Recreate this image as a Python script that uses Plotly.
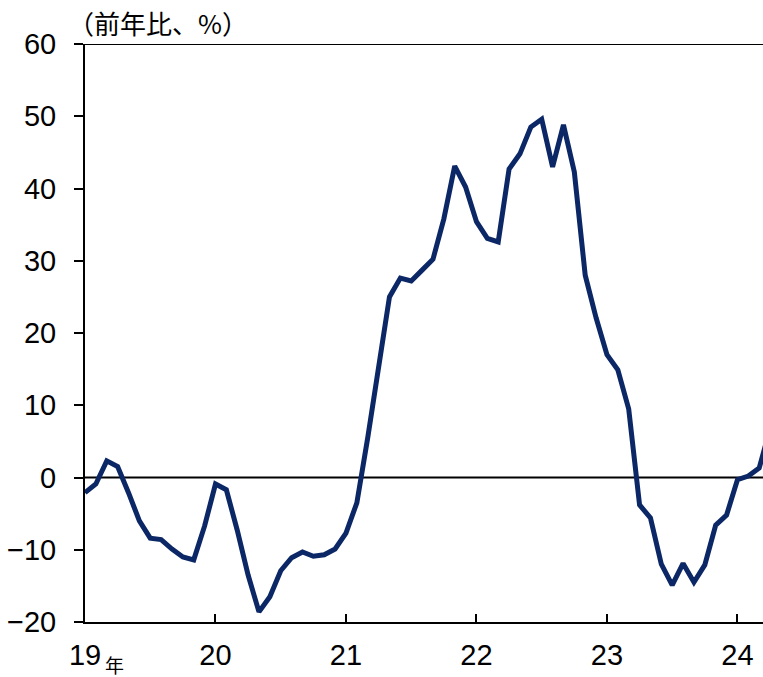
import plotly.graph_objects as go

# Monthly year-on-year change (%), Jan 2019 onward
months = list(range(64))
yoy = [
    -2.1, -0.9, 2.3, 1.5, -2.1, -6.0, -8.4, -8.6, -9.9, -11.0, -11.4, -6.7,   # 2019
    -0.9, -1.7, -7.3, -13.5, -18.6, -16.5, -12.9, -11.1, -10.3, -10.9, -10.7, -9.9,  # 2020
    -7.7, -3.5, 5.5, 14.9, 25.0, 27.6, 27.2, 28.7, 30.2, 35.8, 43.1, 40.2,  # 2021
    35.4, 33.1, 32.6, 42.7, 44.8, 48.5, 49.6, 43.0, 48.8, 42.3, 28.0, 22.1,  # 2022
    17.0, 14.9, 9.5, -3.8, -5.6, -12.0, -14.9, -11.9, -14.5, -12.1, -6.6, -5.2,  # 2023
    -0.3, 0.2, 1.3, 6.8,  # 2024
]
year_ticks = [0, 12, 24, 36, 48, 60]
year_labels = ["19", "20", "21", "22", "23", "24"]
y_ticks = [-20, -10, 0, 10, 20, 30, 40, 50, 60]

num_font = "Liberation Sans, Arial, sans-serif"
cjk_font = "'Noto Sans CJK JP', 'Noto Sans CJK SC', sans-serif"

fig = go.Figure()
fig.add_trace(go.Scatter(
    x=months, y=yoy, mode="lines",
    line=dict(color="#0b2766", width=5),
    showlegend=False, cliponaxis=True,
))

# zero line
fig.add_shape(type="line", xref="paper", x0=0, x1=1, yref="y", y0=0, y1=0,
              line=dict(color="black", width=2), layer="below")
# top border
fig.add_shape(type="line", xref="paper", x0=0, x1=1, yref="y", y0=60, y1=60,
              line=dict(color="black", width=2))

fig.update_layout(
    width=763, height=677,
    margin=dict(l=85, r=0, t=44, b=55),
    plot_bgcolor="white", paper_bgcolor="white",
    xaxis=dict(
        range=[0, 62.35], tickmode="array", tickvals=year_ticks, ticktext=year_labels,
        ticks="inside", ticklen=8, tickwidth=2, tickcolor="black",
        showline=True, linecolor="black", linewidth=2, showgrid=False, zeroline=False,
        ticklabelstandoff=6,
        tickfont=dict(family=num_font, size=29, color="black"),
    ),
    yaxis=dict(
        range=[-20, 60], tickmode="array", tickvals=y_ticks,
        ticks="outside", ticklen=9, tickwidth=2, tickcolor="black",
        showline=True, linecolor="black", linewidth=2, showgrid=False, zeroline=False,
        ticklabelstandoff=12,
        tickfont=dict(family=num_font, size=29, color="black"),
    ),
    annotations=[
        dict(text="（前年比、%）", xref="paper", yref="paper", x=0, y=1,
             xanchor="left", yanchor="middle", xshift=-19, yshift=22, showarrow=False,
             font=dict(family=cjk_font, size=26, color="black")),
        dict(text="年", xref="x", yref="paper", x=0, y=0, xanchor="center", yanchor="middle",
             xshift=29, yshift=-42, showarrow=False,
             font=dict(family=cjk_font, size=19, color="black")),
    ],
)

fig.write_html("out.html")
